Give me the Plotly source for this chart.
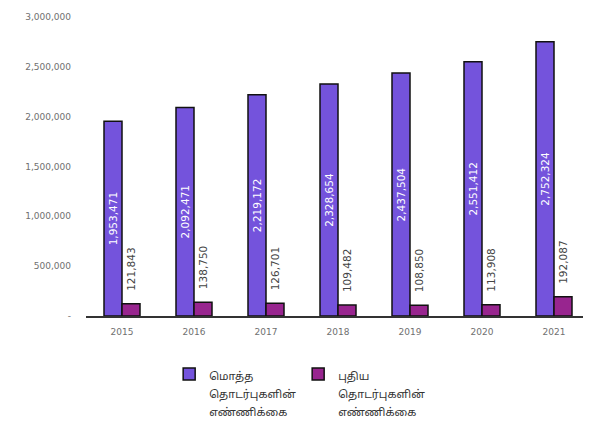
import plotly.graph_objects as go

years = ["2015", "2016", "2017", "2018", "2019", "2020", "2021"]
total_series = [1953471, 2092471, 2219172, 2328654, 2437504, 2551412, 2752324]
new_series = [121843, 138750, 126701, 109482, 108850, 113908, 192087]
total_lines = ["மொத்த", "தொடர்புகளின்", "எண்ணிக்கை"]
new_lines = ["புதிய", "தொடர்புகளின்", "எண்ணிக்கை"]
y_ticks = [0, 500000, 1000000, 1500000, 2000000, 2500000, 3000000]
y_tick_text = ["-", "500,000", "1,000,000", "1,500,000", "2,000,000", "2,500,000", "3,000,000"]

TAMIL_FONT = "Noto Sans Tamil, Lohit Tamil, Latha, Noto Sans, DejaVu Sans, sans-serif"
LABEL_FONT = "DejaVu Sans, Verdana, sans-serif"
TICK_FONT = dict(family=LABEL_FONT, size=9, color="#707070")


def legend_name(lines):
    # small glyphs, wide line spacing (spacing follows the legend font size)
    return "<br>".join(f"<span style='font-size:11px'>{s}</span>" for s in lines)


fig = go.Figure()
fig.add_trace(go.Bar(
    x=years, y=total_series, name=legend_name(total_lines),
    marker=dict(color="#7453dc", line=dict(color="#111111", width=1.5)),
    text=[f"{v:,}" for v in total_series],
    textposition="inside", insidetextanchor="middle", textangle=-90,
    textfont=dict(family=LABEL_FONT, size=10.5, color="#ffffff"),
    constraintext="none",
))
fig.add_trace(go.Bar(
    x=years, y=new_series, name=legend_name(new_lines),
    marker=dict(color="#98258f", line=dict(color="#111111", width=1.5)),
    text=["\u00a0\u00a0\u00a0" + f"{v:,}" for v in new_series],
    textposition="outside", textangle=-90,
    textfont=dict(family=LABEL_FONT, size=10.5, color="#444444"),
    constraintext="none", cliponaxis=False,
))

fig.update_layout(
    width=583, height=430,
    margin=dict(l=78, r=1, t=9, b=122),
    plot_bgcolor="#ffffff", paper_bgcolor="#ffffff",
    barmode="group", bargap=0.5, bargroupgap=0,
    showlegend=True,
    legend=dict(
        orientation="h", x=0.165, xanchor="left", y=-0.142, yanchor="top",
        font=dict(family=TAMIL_FONT, size=14, color="#333333"),
        entrywidth=84, entrywidthmode="pixels", valign="top",
        itemwidth=30, bgcolor="rgba(0,0,0,0)",
    ),
    xaxis=dict(
        showgrid=False, showline=True, linecolor="#333333", linewidth=1.5,
        ticks="", tickfont=TICK_FONT, ticklabelstandoff=6,
    ),
    yaxis=dict(
        range=[0, 3000000], showgrid=False, showline=False, zeroline=False,
        tickvals=y_ticks, ticktext=y_tick_text, tickfont=TICK_FONT,
        ticks="", ticklabelstandoff=14,
    ),
)

fig.write_html("out.html")
